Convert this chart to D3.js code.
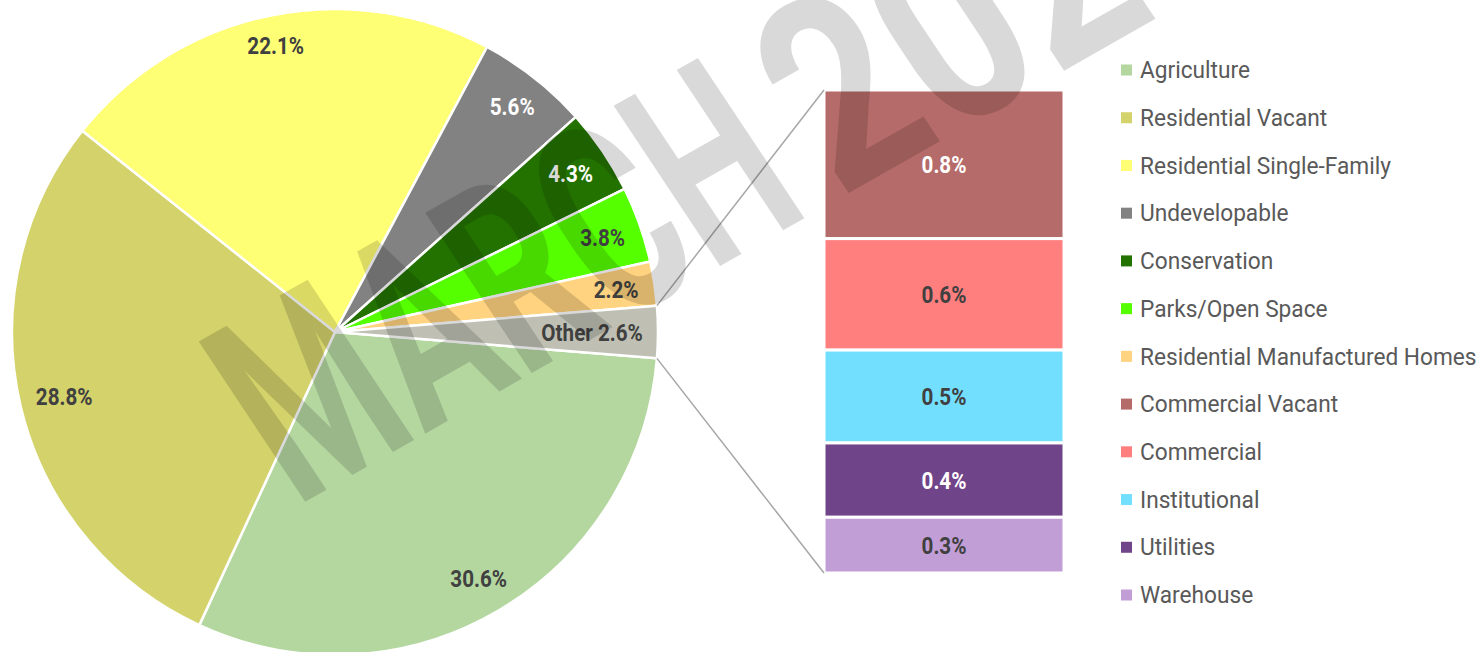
<!DOCTYPE html>
<html>
<head>
<meta charset="utf-8">
<script src="https://cdn.jsdelivr.net/npm/d3@7"></script>
<style>
  html, body { margin: 0; padding: 0; background: #ffffff; overflow: hidden; }
  svg { display: block; }
</style>
</head>
<body>
<svg id="chart" width="1482" height="652"></svg>
<script>
// Land use shares (percent of total area)
const categories = ["Agriculture", "Residential Vacant", "Residential Single-Family", "Undevelopable",
                    "Conservation", "Parks/Open Space", "Residential Manufactured Homes"];
const shares = [30.6, 28.8, 22.1, 5.6, 4.3, 3.8, 2.2];
const colors = ["#b4d7a0", "#d4d26a", "#ffff75", "#828282", "#237200", "#55ff00", "#ffd37f"];

// Breakdown of the combined "Other" slice
const otherCategories = ["Commercial Vacant", "Commercial", "Institutional", "Utilities", "Warehouse"];
const otherShares = [0.8, 0.6, 0.5, 0.4, 0.3];
const otherColors = ["#b56b69", "#ff7f7f", "#73dfff", "#704489", "#c29ed7"];
const otherName = "Other";
const otherColor = "#bfc0b3";

// Watermark words
const watermarkMonth = "MARCH";
const watermarkYear = "2024";

const svg = d3.select("#chart");

const baseFont = "Roboto, 'Liberation Sans', sans-serif";
const labelSquash = 0.86;    // condensed look for value labels
const legendSquash = 0.945;
const fmt = v => d3.format(".1f")(v) + "%";
const textColorFor = c => d3.lab(c).l < 60 ? "#ffffff" : "#404040";

// ---------- pie ----------
const cx = 335, cy = 332, R = 323;
const otherTotal = d3.sum(otherShares);
const pieData = categories.map((c, i) => ({ name: c, value: shares[i], color: colors[i] }))
  .concat([{ name: otherName, value: otherTotal, color: otherColor, isOther: true }]);
const total = d3.sum(pieData, d => d.value);
const otherHalf = Math.PI * otherTotal / total;   // half of the Other wedge
const start = Math.PI / 2 + otherHalf;

const pie = d3.pie().sort(null).value(d => d.value)
  .startAngle(start).endAngle(start + 2 * Math.PI);
const arcs = pie(pieData);
const arc = d3.arc().innerRadius(0).outerRadius(R);

const gPie = svg.append("g").attr("transform", `translate(${cx},${cy})`);
gPie.selectAll("path").data(arcs).join("path")
  .attr("d", arc)
  .attr("fill", d => d.data.color)
  .attr("stroke", "#ffffff")
  .attr("stroke-width", 2.5)
  .attr("stroke-linejoin", "round");

// value labels placed just inside the rim
const labelPad = 15, halfH = 9;
const pl = gPie.selectAll("g.pl").data(arcs).join("g").attr("class", "pl");
pl.append("text")
  .attr("transform", `scale(${labelSquash},1)`)
  .attr("font-family", baseFont)
  .attr("font-weight", "bold")
  .attr("font-size", 24)
  .attr("text-anchor", "middle")
  .attr("dominant-baseline", "central")
  .attr("fill", d => textColorFor(d.data.color))
  .text(d => (d.data.isOther ? d.data.name + " " : "") + fmt(d.value))
  .each(function (d) {
    const w = this.getComputedTextLength() * labelSquash;
    const a = (d.startAngle + d.endAngle) / 2;
    const ux = Math.sin(a), uy = -Math.cos(a);
    const hw = w / 2, D = R - labelPad;
    const b = hw * Math.abs(ux) + halfH * Math.abs(uy);
    const r = -b + Math.sqrt(b * b - (hw * hw + halfH * halfH - D * D));
    d3.select(this.parentNode).attr("transform", `translate(${r * ux},${r * uy})`);
  });

// ---------- stacked bar for Other ----------
const barX = 824, barW = 240, barTop = 90, barBottom = 573;
const y = d3.scaleLinear().domain([0, otherTotal]).range([barTop, barBottom]);
const stackData = [];
otherShares.reduce((acc, v, i) => {
  stackData.push({ name: otherCategories[i], value: v, color: otherColors[i], y0: acc, y1: acc + v });
  return acc + v;
}, 0);

const gBar = svg.append("g");
gBar.selectAll("rect").data(stackData).join("rect")
  .attr("x", barX)
  .attr("width", barW)
  .attr("y", d => y(d.y0))
  .attr("height", d => y(d.y1) - y(d.y0))
  .attr("fill", d => d.color)
  .attr("stroke", "#ffffff")
  .attr("stroke-width", 3);

gBar.selectAll("g.bl").data(stackData).join("g")
  .attr("class", "bl")
  .attr("transform", d => `translate(${barX + barW / 2},${(y(d.y0) + y(d.y1)) / 2})`)
  .append("text")
  .attr("transform", `scale(${labelSquash},1)`)
  .attr("font-family", baseFont)
  .attr("font-weight", "bold")
  .attr("font-size", 24)
  .attr("text-anchor", "middle")
  .attr("dominant-baseline", "central")
  .attr("fill", d => textColorFor(d.color))
  .text(d => fmt(d.value));

// ---------- connector lines ----------
const otherArc = arcs.find(d => d.data.isOther);
const rimPoint = a => [cx + R * Math.sin(a), cy - R * Math.cos(a)];
const pTop = rimPoint(otherArc.startAngle);
const pBot = rimPoint(otherArc.endAngle);
svg.append("g").selectAll("line")
  .data([[pTop, [barX, barTop]], [pBot, [barX, barBottom]]])
  .join("line")
  .attr("x1", d => d[0][0]).attr("y1", d => d[0][1])
  .attr("x2", d => d[1][0]).attr("y2", d => d[1][1])
  .attr("stroke", "#a6a6a6")
  .attr("stroke-width", 1.5);

// ---------- legend ----------
const legendItems = categories.map((c, i) => ({ name: c, color: colors[i] }))
  .concat(otherCategories.map((c, i) => ({ name: c, color: otherColors[i] })));
const legendY = d3.scalePoint().domain(legendItems.map(d => d.name)).range([70, 595]);
const gLeg = svg.append("g");
const rows = gLeg.selectAll("g").data(legendItems).join("g")
  .attr("transform", d => `translate(1121,${legendY(d.name)})`);
rows.append("rect")
  .attr("x", 0).attr("y", -5.5).attr("width", 11).attr("height", 11)
  .attr("fill", d => d.color);
rows.append("text")
  .attr("transform", `translate(19,0) scale(${legendSquash},1)`)
  .attr("dominant-baseline", "central")
  .attr("font-family", baseFont)
  .attr("font-size", 24)
  .attr("fill", "#595959")
  .text(d => d.name);

// ---------- watermark ----------
const gWm = svg.append("g")
  .attr("transform", "translate(296,507) rotate(-29.6) skewX(4)")
  .attr("font-family", baseFont)
  .attr("font-weight", "bold")
  .attr("font-size", 270)
  .attr("fill", "#000000")
  .attr("fill-opacity", 0.15);
gWm.append("text")
  .attr("transform", "scale(0.62,1)")
  .text(watermarkMonth);
gWm.append("text")
  .attr("transform", "translate(625,0) scale(0.8,1)")
  .text(watermarkYear);
</script>
</body>
</html>
